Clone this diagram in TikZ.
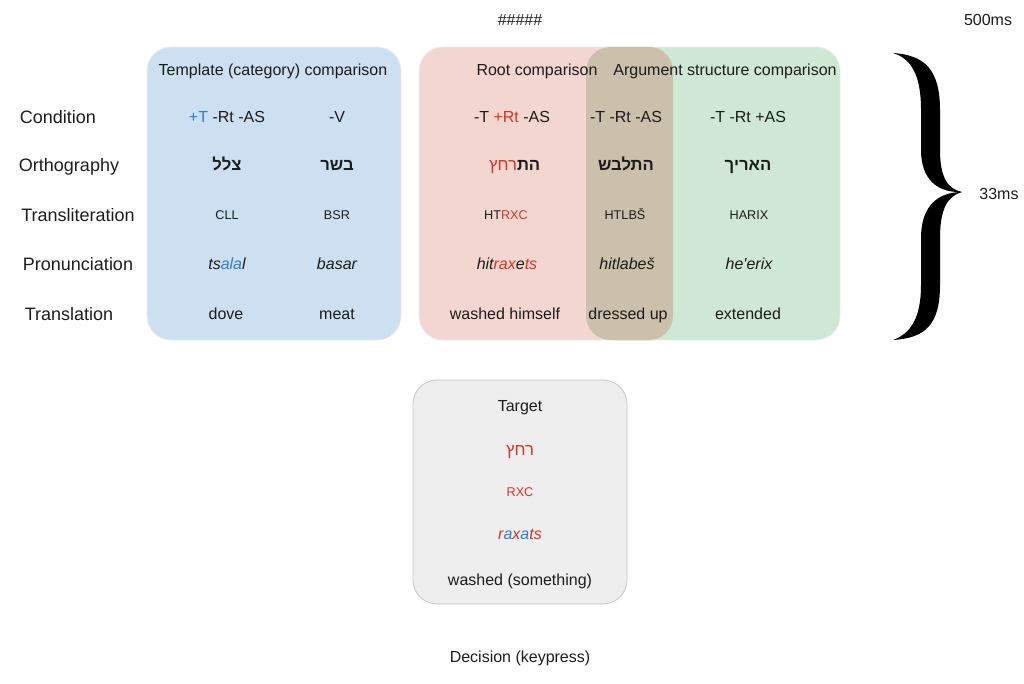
\documentclass[tikz,border=0pt]{standalone}
\usepackage{fontspec}
\setmainfont{Liberation Sans}[Ligatures=TeXOff]
\newfontfamily\heb[Script=Hebrew]{Liberation Sans}
\TeXXeTstate=1
\definecolor{boxblue}{RGB}{205,224,241}
\definecolor{boxred}{RGB}{243,214,208}
\definecolor{boxgreen}{RGB}{206,232,213}
\definecolor{boxmix}{RGB}{202,192,172}
\definecolor{boxgray}{RGB}{238,238,238}
\definecolor{edgegray}{RGB}{200,200,200}
\definecolor{hred}{RGB}{214,52,38}
\definecolor{hblue}{RGB}{52,122,205}
\definecolor{ink}{RGB}{28,28,28}
\begin{document}
\begin{tikzpicture}[x=0.75pt,y=-0.75pt,
  every node/.style={inner sep=0pt,outer sep=0pt,text=ink},
  lab/.style={font=\fontsize{13.5}{16}\selectfont,text height=9.7pt,text depth=0pt},
  txt/.style={font=\fontsize{12}{14}\selectfont,text height=8.6pt,text depth=0pt},
  itx/.style={font=\fontsize{12}{14}\selectfont\itshape,text height=8.6pt,text depth=0pt},
  trl/.style={font=\fontsize{9.5}{11}\selectfont,text height=6.8pt,text depth=0pt},
  hbw/.style={font=\fontsize{12.5}{15}\selectfont\heb\bfseries,text height=9.5pt,text depth=0pt},
  hbr/.style={font=\fontsize{12.5}{15}\selectfont\heb,text height=9.5pt,text depth=0pt,text=hred},
  panel/.style={rounded corners=18pt,draw=black!8,line width=0.5pt}]
\useasboundingbox (0,0) rectangle (1024,683);
% panels
\fill[boxblue,panel] (147,47) rectangle (401,340);
\fill[boxred,panel] (419,47) rectangle (673,340);
\fill[boxgreen,panel] (586,47) rectangle (840,340);
\begin{scope}
  \clip[rounded corners=18pt] (419,47) rectangle (673,340);
  \fill[boxmix,rounded corners=18pt] (586,47) rectangle (840,340);
\end{scope}
\fill[boxgray,rounded corners=18pt,draw=edgegray,line width=0.6pt] (413,380) rectangle (627,604);
% top texts
\node[txt] (hash) at (520,20) {\#\#\#\#\#};
\node[txt] (t500) at (988,20) {500ms};
\node[txt] (t33) at (999,194) {33ms};
% row labels
\node[lab] (lcond) at (58,117) {Condition};
\node[lab] (lorth) at (69,165) {Orthography};
\node[lab] (ltrl) at (78,215) {Transliteration};
\node[lab] (lpron) at (78,264) {Pronunciation};
\node[lab] (ltran) at (69,314) {Translation};
% headers
\node[txt] (hT) at (273,70) {Template (category) comparison};
\node[txt] (hR) at (537,70) {Root comparison};
\node[txt] (hA) at (725,70) {Argument structure comparison};
% template column 1
\node[txt] (c1) at (227,117) {\textcolor{hblue}{+T} -Rt -AS};
\node[hbw] (o1) at (227,164) {\beginR צלל\endR};
\node[trl] (r1) at (227,215) {CLL};
\node[itx] (p1) at (227,264) {ts\textcolor{hblue}{ala}l};
\node[txt] (m1) at (226,314) {dove};
% template column 2
\node[txt] (c2) at (337,117) {-V};
\node[hbw] (o2) at (337,164) {\beginR בשר\endR};
\node[trl] (r2) at (337,215) {BSR};
\node[itx] (p2) at (337,264) {basar};
\node[txt] (m2) at (337,314) {meat};
% root column
\node[txt] (c3) at (512,117) {-T \textcolor{hred}{+Rt} -AS};
\coordinate (split3) at (517,164);
\node[hbr,anchor=east] (o3a) at (split3) {\beginR רחץ\endR};
\node[hbw,anchor=west] (o3b) at (split3) {\beginR הת\endR};
\node[trl] (r3) at (506,215) {HT\textcolor{hred}{RXC}};
\node[itx] (p3) at (507,264) {hit\textcolor{hred}{rax}e\textcolor{hred}{ts}};
\node[txt] (m3) at (505,314) {washed himself};
% overlap column
\node[txt] (c4) at (626,117) {-T -Rt -AS};
\node[hbw] (o4) at (626,164) {\beginR התלבש\endR};
\node[trl] (r4) at (625,215) {HTLBŠ};
\node[itx] (p4) at (627,264) {hitlabeš};
\node[txt] (m4) at (628,314) {dressed up};
% argument structure column
\node[txt] (c5) at (748,117) {-T -Rt +AS};
\node[hbw] (o5) at (748,164) {\beginR האריך\endR};
\node[trl] (r5) at (749,215) {HARIX};
\node[itx] (p5) at (749,264) {he'erix};
\node[txt] (m5) at (748,314) {extended};
% target
\node[txt] (tg) at (520,406) {Target};
\node[hbr] (tgo) at (520,449) {\beginR רחץ\endR};
\node[trl,text=hred] (tgr) at (520,492) {RXC};
\node[itx,text=hred] (tgp) at (520,534) {r\textcolor{hblue}{a}x\textcolor{hblue}{a}ts};
\node[txt] (tgm) at (520,580) {washed (something)};
\node[txt] (dec) at (520,657) {Decision (keypress)};
% brace
\fill[black] (893,53) .. controls (925,55) and (940,70) .. (940,110) -- (940,150)
  .. controls (940,178) and (948,189) .. (962,192)
  .. controls (936,193) and (921,178) .. (921,150) -- (921,110)
  .. controls (921,76) and (912,59) .. (893,53) -- cycle;
\fill[black] (962,192) .. controls (948,196) and (940,208) .. (940,238) -- (940,285)
  .. controls (940,325) and (925,338) .. (893,340)
  .. controls (912,333) and (921,316) .. (921,285) -- (921,238)
  .. controls (921,208) and (936,192) .. (962,192) -- cycle;
\end{tikzpicture}
\end{document}
